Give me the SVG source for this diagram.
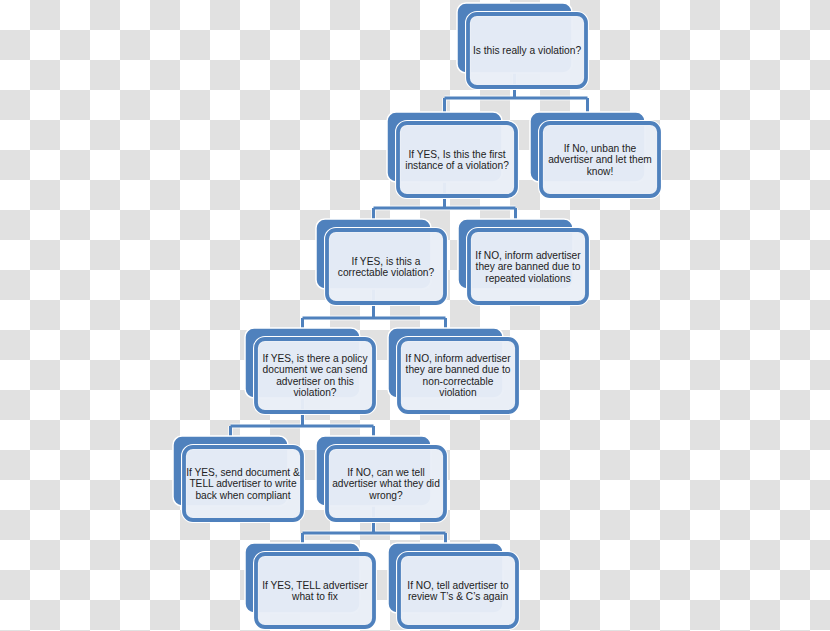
<svg xmlns="http://www.w3.org/2000/svg" width="830" height="631" viewBox="0 0 830 631">
<style>
.back{fill:#4f81bd;stroke:#ffffff;stroke-width:1.5}
.halo{fill:none;stroke:#ffffff;stroke-width:6}
.front{fill:#e9eef7;fill-opacity:0.96;stroke:#4f81bd;stroke-width:3.8}
.conn{fill:none;stroke:#4f81bd;stroke-width:3}
.connh{fill:none;stroke:#ffffff;stroke-opacity:0.7;stroke-width:5}
text{font-family:"Liberation Sans",Arial,sans-serif;font-size:10.2px;fill:#222222;text-anchor:middle}
</style>
<defs>
<pattern id="checker" patternUnits="userSpaceOnUse" width="60" height="60">
<rect width="60" height="60" fill="#ffffff"/>
<rect x="30" y="0" width="30" height="30" fill="#e1e1e1"/>
<rect x="0" y="30" width="30" height="30" fill="#e1e1e1"/>
</pattern>
</defs>
<rect width="830" height="631" fill="url(#checker)"/>
<g id="connectors">
<path class="connh" d="M514.5 50V98M444.5 98H587.5M444.5 98V112M587.5 98V112M444.5 160V208M373.5 208H515.5M373.5 208V219M515.5 208V219M373.5 270V318M302.5 318H445.5M302.5 318V328M445.5 318V328M302.5 380V426M230.5 426H373.5M230.5 426V436M373.5 426V436M373.5 490V533M302.5 533H445.5M302.5 533V543M445.5 533V543"/>
<path class="conn" d="M514.5 50V98M444.5 98H587.5M444.5 98V112M587.5 98V112M444.5 160V208M373.5 208H515.5M373.5 208V219M515.5 208V219M373.5 270V318M302.5 318H445.5M302.5 318V328M445.5 318V328M302.5 380V426M230.5 426H373.5M230.5 426V436M373.5 426V436M373.5 490V533M302.5 533H445.5M302.5 533V543M445.5 533V543"/>
</g>
<g id="n1">
<rect class="back" x="457" y="3" width="115" height="70" rx="9"/>
<rect class="halo" x="468" y="14" width="118" height="73" rx="9"/>
<rect class="front" x="468" y="14" width="118" height="73" rx="9"/>
<text x="527" y="54">Is this really a violation?</text>
</g>
<g id="n2">
<rect class="back" x="387" y="112" width="115" height="70" rx="9"/>
<rect class="halo" x="398" y="123" width="118" height="73" rx="9"/>
<rect class="front" x="398" y="123" width="118" height="73" rx="9"/>
<text x="457" y="157.5">If YES, Is this the first</text>
<text x="457" y="169">instance of a violation?</text>
</g>
<g id="n3">
<rect class="back" x="530" y="112" width="115" height="70" rx="9"/>
<rect class="halo" x="541" y="123" width="118" height="73" rx="9"/>
<rect class="front" x="541" y="123" width="118" height="73" rx="9"/>
<text x="600" y="151.5">If No, unban the</text>
<text x="600" y="163">advertiser and let them</text>
<text x="600" y="174.5">know!</text>
</g>
<g id="n4">
<rect class="back" x="316" y="219" width="115" height="70" rx="9"/>
<rect class="halo" x="327" y="230" width="118" height="73" rx="9"/>
<rect class="front" x="327" y="230" width="118" height="73" rx="9"/>
<text x="386" y="264.5">If YES, is this a</text>
<text x="386" y="276">correctable violation?</text>
</g>
<g id="n5">
<rect class="back" x="458" y="219" width="115" height="70" rx="9"/>
<rect class="halo" x="469" y="230" width="118" height="73" rx="9"/>
<rect class="front" x="469" y="230" width="118" height="73" rx="9"/>
<text x="528" y="258.5">If NO, inform advertiser</text>
<text x="528" y="270">they are banned due to</text>
<text x="528" y="281.5">repeated violations</text>
</g>
<g id="n6">
<rect class="back" x="245" y="328" width="115" height="70" rx="9"/>
<rect class="halo" x="256" y="339" width="118" height="73" rx="9"/>
<rect class="front" x="256" y="339" width="118" height="73" rx="9"/>
<text x="315" y="361.5">If YES, is there a policy</text>
<text x="315" y="373">document we can send</text>
<text x="315" y="384.5">advertiser on this</text>
<text x="315" y="396">violation?</text>
</g>
<g id="n7">
<rect class="back" x="388" y="328" width="115" height="70" rx="9"/>
<rect class="halo" x="399" y="339" width="118" height="73" rx="9"/>
<rect class="front" x="399" y="339" width="118" height="73" rx="9"/>
<text x="458" y="361.5">If NO, inform advertiser</text>
<text x="458" y="373">they are banned due to</text>
<text x="458" y="384.5">non-correctable</text>
<text x="458" y="396">violation</text>
</g>
<g id="n8">
<rect class="back" x="173" y="436" width="115" height="70" rx="9"/>
<rect class="halo" x="184" y="447" width="118" height="73" rx="9"/>
<rect class="front" x="184" y="447" width="118" height="73" rx="9"/>
<text x="243" y="475.5">If YES, send document &amp;</text>
<text x="243" y="487">TELL advertiser to write</text>
<text x="243" y="498.5">back when compliant</text>
</g>
<g id="n9">
<rect class="back" x="316" y="436" width="115" height="70" rx="9"/>
<rect class="halo" x="327" y="447" width="118" height="73" rx="9"/>
<rect class="front" x="327" y="447" width="118" height="73" rx="9"/>
<text x="386" y="475.5">If NO, can we tell</text>
<text x="386" y="487">advertiser what they did</text>
<text x="386" y="498.5">wrong?</text>
</g>
<g id="n10">
<rect class="back" x="245" y="543" width="115" height="70" rx="9"/>
<rect class="halo" x="256" y="554" width="118" height="73" rx="9"/>
<rect class="front" x="256" y="554" width="118" height="73" rx="9"/>
<text x="315" y="588.5">If YES, TELL advertiser</text>
<text x="315" y="600">what to fix</text>
</g>
<g id="n11">
<rect class="back" x="388" y="543" width="115" height="70" rx="9"/>
<rect class="halo" x="399" y="554" width="118" height="73" rx="9"/>
<rect class="front" x="399" y="554" width="118" height="73" rx="9"/>
<text x="458" y="588.5">If NO, tell advertiser to</text>
<text x="458" y="600">review T’s &amp; C’s again</text>
</g>
</svg>
